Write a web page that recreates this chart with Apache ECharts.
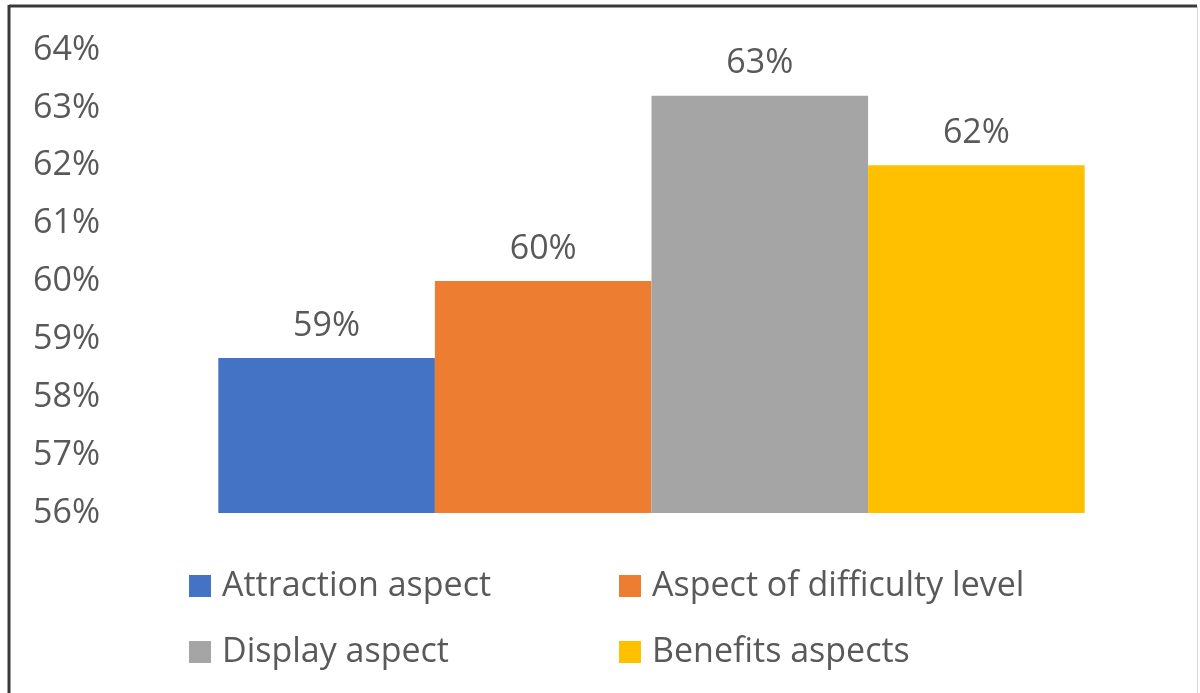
<!DOCTYPE html>
<html>
<head>
<meta charset="utf-8">
<script src="https://cdn.jsdelivr.net/npm/echarts@6/dist/echarts.min.js"></script>
<style>
  html, body { margin: 0; padding: 0; background: #fff; }
  #chart-container { width: 1200px; height: 693px; }
</style>
</head>
<body>
<div id="chart-container"></div>
<script>
// data (percent)
const categories = ['Aspects'];
const seriesNames = ['Attraction aspect', 'Aspect of difficulty level', 'Display aspect', 'Benefits aspects'];
const seriesValues = [58.68, 60.01, 63.21, 62.01];
const seriesColors = ['#4472C4', '#ED7D31', '#A5A5A5', '#FFC000'];
const yTicks = { min: 56, max: 64, step: 1 };

const textColor = '#595959';
const fontFamily = 'Open Sans';
const fontSize = 34;

const chartDom = document.getElementById('chart-container');
const myChart = echarts.init(chartDom, null, { renderer: 'canvas' });

// legend: 2 x 2 layout, one legend per entry
const legendPos = [
    { left: 189, top: 569 },
    { left: 619, top: 569 },
    { left: 189, top: 635 },
    { left: 619, top: 635 }
];

const option = {
    backgroundColor: '#fff',
    animation: false,
    textStyle: { fontFamily: fontFamily },
    graphic: {
        elements: [
            // frame round the chart
            { type: 'line', shape: { x1: 9, y1: 6, x2: 1197, y2: 6 }, style: { stroke: '#3a3a3a', lineWidth: 3 } },
            { type: 'line', shape: { x1: 9, y1: 5, x2: 9, y2: 693 }, style: { stroke: '#3a3a3a', lineWidth: 3 } },
            { type: 'line', shape: { x1: 1197.5, y1: 6, x2: 1197.5, y2: 693 }, style: { stroke: '#d9d9d9', lineWidth: 1 } }
        ]
    },
    legend: seriesNames.map(function (name, i) {
        return {
            data: [name],
            left: legendPos[i].left,
            top: legendPos[i].top,
            padding: 0,
            itemWidth: 22,
            itemHeight: 22,
            itemGap: 0,
            icon: 'rect',
            textStyle: { color: textColor, fontSize: fontSize, fontFamily: fontFamily, padding: [0, 0, 0, 6] }
        };
    }),
    grid: {
        left: 110,
        right: 7,
        top: 50,
        bottom: 180,
        containLabel: false
    },
    xAxis: {
        type: 'category',
        data: categories,
        axisLine: { show: false },
        axisTick: { show: false },
        axisLabel: { show: false },
        splitLine: { show: false }
    },
    yAxis: {
        type: 'value',
        min: yTicks.min,
        max: yTicks.max,
        interval: yTicks.step,
        axisLine: { show: false },
        axisTick: { show: false },
        splitLine: { show: false },
        axisLabel: {
            formatter: '{value}%',
            color: textColor,
            fontSize: fontSize,
            fontFamily: fontFamily,
            margin: 10
        }
    },
    series: seriesNames.map(function (name, i) {
        return {
            name: name,
            type: 'bar',
            data: [seriesValues[i]],
            barGap: '0%',
            barCategoryGap: '20%',
            itemStyle: { color: seriesColors[i] },
            label: {
                show: true,
                position: 'top',
                distance: 15,
                color: textColor,
                fontSize: fontSize,
                fontFamily: fontFamily,
                formatter: function (p) { return Math.round(p.value) + '%'; }
            }
        };
    })
};

myChart.setOption(option);
</script>
</body>
</html>
